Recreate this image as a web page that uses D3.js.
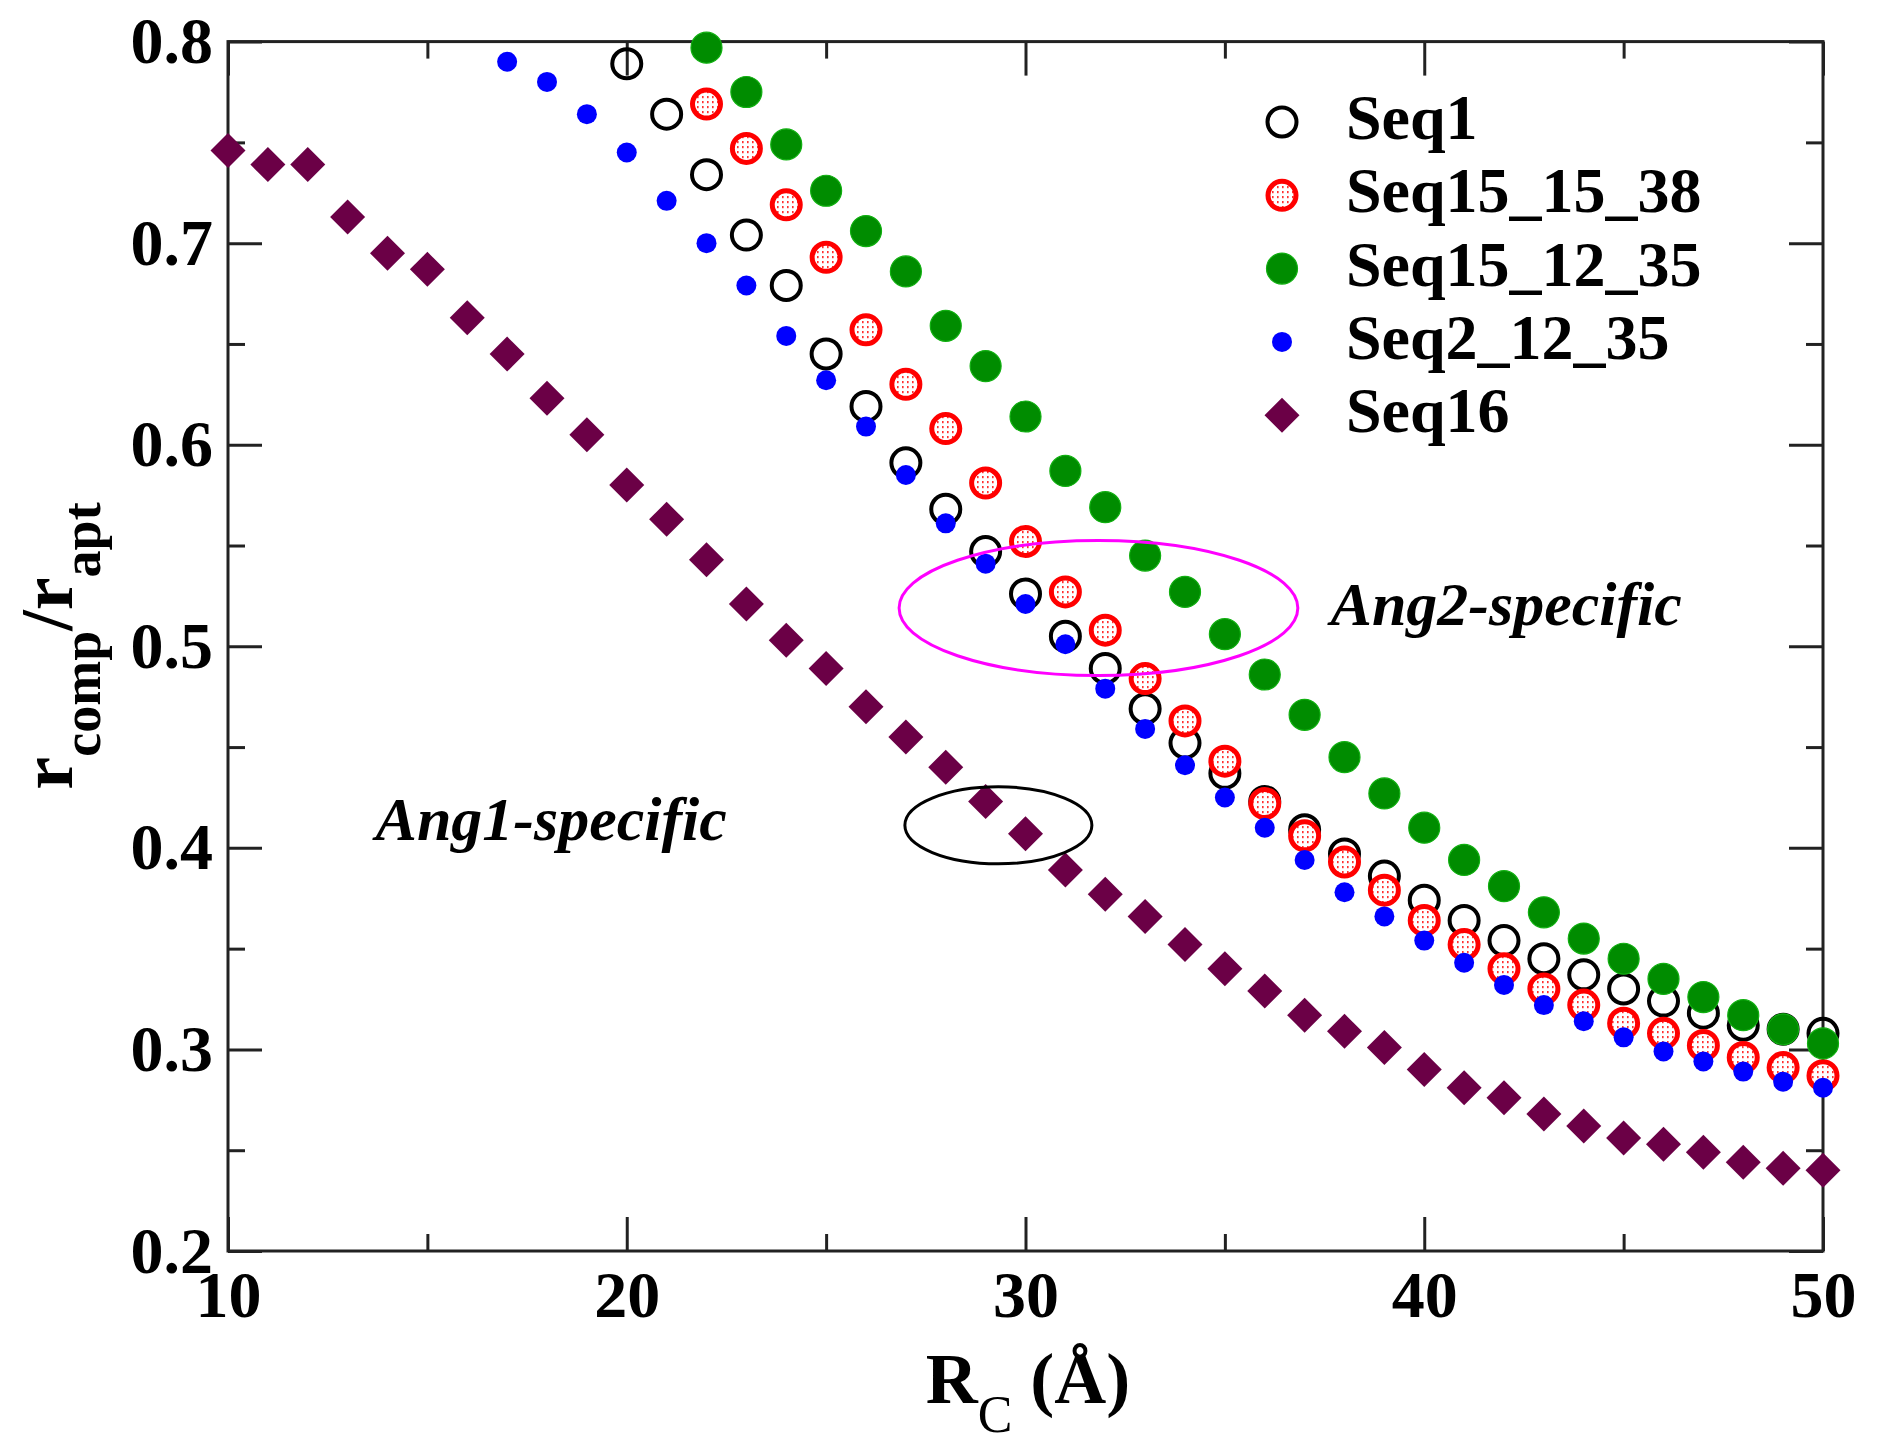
<!DOCTYPE html>
<html>
<head>
<meta charset="utf-8">
<script src="https://cdn.jsdelivr.net/npm/d3@7/dist/d3.min.js"></script>
<style>
  html, body { margin: 0; padding: 0; background: #fff; }
  svg { display: block; }
  text { font-family: "Liberation Serif", "DejaVu Serif", serif; }
</style>
</head>
<body>
<svg id="chart" width="1882" height="1450"></svg>
<script>
// ---------- data ----------
const rc = [10,11,12,13,14,15,16,17,18,19,20,21,22,23,24,25,26,27,28,29,30,
            31,32,33,34,35,36,37,38,39,40,41,42,43,44,45,46,47,48,49,50];

const seq1 = [null,null,null,null,null,null,null,null,null,null,
  0.789,0.764,0.734,0.704,0.679,0.645,0.619,0.591,0.568,0.547,0.526,
  0.505,0.489,0.469,0.452,0.437,0.423,0.409,0.397,0.386,0.374,
  0.364,0.354,0.345,0.337,0.330,0.324,0.318,0.312,0.310,0.308];

const seq15_15_38 = [null,null,null,null,null,null,null,null,null,null,null,null,
  0.769,0.747,0.719,0.693,0.657,0.630,0.608,0.581,0.552,
  0.527,0.508,0.484,0.463,0.443,0.422,0.406,0.393,0.379,0.364,
  0.352,0.340,0.330,0.322,0.313,0.308,0.302,0.296,0.291,0.287];

const seq15_12_35 = [null,null,null,null,null,null,null,null,null,null,null,null,
  0.797,0.775,0.749,0.726,0.706,0.686,0.659,0.639,0.614,
  0.587,0.569,0.545,0.527,0.506,0.486,0.466,0.445,0.427,0.410,
  0.394,0.381,0.368,0.355,0.345,0.335,0.326,0.317,0.310,0.303];

const seq2_12_35 = [null,null,null,null,null,null,null,
  0.790,0.780,0.764,0.745,0.721,0.700,0.679,0.654,0.632,0.609,0.585,0.561,0.541,0.521,
  0.501,0.479,0.459,0.441,0.425,0.410,0.394,0.378,0.366,0.354,
  0.343,0.332,0.322,0.314,0.306,0.299,0.294,0.289,0.284,0.281];

const seq16 = [0.746,0.739,0.739,0.713,0.695,0.687,0.663,0.645,0.623,0.605,
  0.580,0.563,0.543,0.521,0.503,0.489,0.470,0.455,0.440,0.423,0.407,
  0.389,0.377,0.366,0.352,0.340,0.329,0.317,0.309,0.301,0.290,
  0.281,0.276,0.268,0.262,0.256,0.253,0.249,0.244,0.241,0.240];

const seriesNames = ["Seq1","Seq15_15_38","Seq15_12_35","Seq2_12_35","Seq16"];
const xMajorTicks = [10,20,30,40,50];
const xMinorTicks = [15,25,35,45];
const yMajorTicks = [0.2,0.3,0.4,0.5,0.6,0.7,0.8];
const yMinorTicks = [0.25,0.35,0.45,0.55,0.65,0.75];

// annotations: [label, x, y] and ellipses [cx, cy, rx, ry] in data units
const ang2Ellipse = [31.83, 0.519, 5.0, 0.0335];
const ang1Ellipse = [29.32, 0.4112, 2.345, 0.0191];
const ang2Label = ["Ang2-specific", 37.65, 0.5105];
const ang1Label = ["Ang1-specific", 13.7, 0.4040];

// ---------- layout ----------
const L = 228, R = 1823, T = 41.6, B = 1251;
const svg = d3.select("#chart");
const x = d3.scaleLinear().domain([10, 50]).range([L, R]);
const y = d3.scaleLinear().domain([0.2, 0.8]).range([B, T]);

const defs = svg.append("defs");
const pat = defs.append("pattern").attr("id", "redDots")
  .attr("patternUnits", "userSpaceOnUse").attr("width", 5).attr("height", 5);
pat.append("rect").attr("width", 5).attr("height", 5).attr("fill", "#ffffff");
pat.append("rect").attr("x", 2).attr("y", 1).attr("width", 1.6).attr("height", 2.2).attr("fill", "#ff3030");

const styles = {
  "Seq1":        {type: "circle", r: 14.5, fill: "none", stroke: "#000", sw: 4},
  "Seq15_15_38": {type: "circle", r: 14, fill: "url(#redDots)", stroke: "#ff0000", sw: 5},
  "Seq15_12_35": {type: "circle", r: 15.5, fill: "#008c00", stroke: "#10b010", sw: 1.2},
  "Seq2_12_35":  {type: "circle", r: 10, fill: "#0000ff", stroke: "none", sw: 0},
  "Seq16":       {type: "diamond", r: 17.5, fill: "#6b0046", stroke: "none", sw: 0}
};
const seriesData = {
  "Seq1": seq1, "Seq15_15_38": seq15_15_38, "Seq15_12_35": seq15_12_35,
  "Seq2_12_35": seq2_12_35, "Seq16": seq16
};

function drawMarker(g, st, cx, cy) {
  if (st.type === "circle") {
    g.append("circle").attr("cx", cx).attr("cy", cy).attr("r", st.r)
      .attr("fill", st.fill).attr("stroke", st.stroke).attr("stroke-width", st.sw);
  } else {
    const s = st.r;
    g.append("path")
      .attr("d", `M${cx},${cy - s}L${cx + s},${cy}L${cx},${cy + s}L${cx - s},${cy}Z`)
      .attr("fill", st.fill);
  }
}

// ---------- axes ----------
const axisColor = "#222";
function styleAxis(g) {
  g.select(".domain").remove();
  g.selectAll(".tick line").attr("stroke", axisColor).attr("stroke-width", 3);
  g.selectAll(".tick text").attr("fill", "#000").attr("font-size", 66)
    .attr("font-weight", "bold").attr("font-family", "Liberation Serif, serif");
}
svg.append("g").attr("transform", `translate(0,${B})`)
  .call(d3.axisBottom(x).tickValues(xMajorTicks).tickSize(-34).tickPadding(19).tickFormat(d3.format("d")))
  .call(styleAxis);
svg.append("g").attr("transform", `translate(0,${B})`)
  .call(d3.axisBottom(x).tickValues(xMinorTicks).tickSize(-17).tickFormat(""))
  .call(styleAxis);
svg.append("g").attr("transform", `translate(0,${T})`)
  .call(d3.axisTop(x).tickValues(xMajorTicks).tickSize(-34).tickFormat(""))
  .call(styleAxis);
svg.append("g").attr("transform", `translate(0,${T})`)
  .call(d3.axisTop(x).tickValues(xMinorTicks).tickSize(-17).tickFormat(""))
  .call(styleAxis);
svg.append("g").attr("transform", `translate(${L},0)`)
  .call(d3.axisLeft(y).tickValues(yMajorTicks).tickSize(-34).tickPadding(15).tickFormat(d3.format(".1f")))
  .call(styleAxis);
svg.append("g").attr("transform", `translate(${L},0)`)
  .call(d3.axisLeft(y).tickValues(yMinorTicks).tickSize(-17).tickFormat(""))
  .call(styleAxis);
svg.append("g").attr("transform", `translate(${R},0)`)
  .call(d3.axisRight(y).tickValues(yMajorTicks).tickSize(-34).tickFormat(""))
  .call(styleAxis);
svg.append("g").attr("transform", `translate(${R},0)`)
  .call(d3.axisRight(y).tickValues(yMinorTicks).tickSize(-17).tickFormat(""))
  .call(styleAxis);

svg.append("rect").attr("x", L).attr("y", T).attr("width", R - L).attr("height", B - T)
  .attr("fill", "none").attr("stroke", axisColor).attr("stroke-width", 3);

// ---------- series ----------
const plot = svg.append("g");
seriesNames.forEach(name => {
  const st = styles[name];
  const g = plot.append("g").attr("class", "series");
  seriesData[name].forEach((v, i) => {
    if (v === null) return;
    drawMarker(g, st, x(rc[i]), y(v));
  });
});

// ---------- ellipses & annotations ----------
function ellipse(e, color) {
  svg.append("ellipse")
    .attr("cx", x(e[0])).attr("cy", y(e[1]))
    .attr("rx", x(e[0] + e[2]) - x(e[0])).attr("ry", y(e[1] - e[3]) - y(e[1]))
    .attr("fill", "none").attr("stroke", color).attr("stroke-width", 3);
}
ellipse(ang2Ellipse, "#ff00ff");
ellipse(ang1Ellipse, "#000");

[ang2Label, ang1Label].forEach(a => {
  svg.append("text").attr("x", x(a[1])).attr("y", y(a[2]))
    .attr("font-size", 62).attr("font-weight", "bold").attr("font-style", "italic")
    .attr("fill", "#000").text(a[0]);
});

// ---------- legend ----------
const legendX = 1282, legendY0 = 122, legendDy = 73.3;
seriesNames.forEach((name, i) => {
  const cy = legendY0 + i * legendDy;
  const g = svg.append("g");
  drawMarker(g, styles[name], legendX, cy);
  svg.append("text").attr("x", 1346).attr("y", cy + 17)
    .attr("font-size", 64).attr("font-weight", "bold").attr("fill", "#000").text(name);
});

// ---------- axis titles ----------
const xt = svg.append("text").attr("x", 1028).attr("y", 1403)
  .attr("text-anchor", "middle").attr("font-weight", "bold").attr("font-size", 72).attr("fill", "#000");
xt.append("tspan").text("R");
xt.append("tspan").attr("dy", 29).attr("font-size", 52).attr("font-weight", "normal").text("C");
xt.append("tspan").attr("dy", -29).text(" (Å)");

const yt = svg.append("text").attr("transform", "translate(72,646) rotate(-90)")
  .attr("text-anchor", "middle").attr("font-weight", "bold").attr("font-size", 74).attr("fill", "#000");
yt.append("tspan").text("r");
yt.append("tspan").attr("dy", 28).attr("font-size", 54).text("comp");
yt.append("tspan").attr("dy", -28).text("/r");
yt.append("tspan").attr("dy", 28).attr("font-size", 54).text("apt");
</script>
</body>
</html>
